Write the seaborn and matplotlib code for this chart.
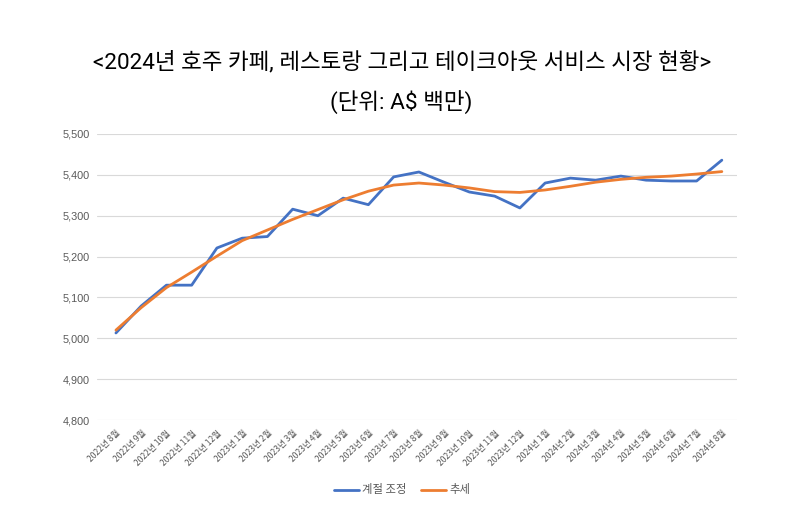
import matplotlib
matplotlib.use("Agg")
import matplotlib.pyplot as plt
import seaborn as sns
import pandas as pd
import numpy as np
from matplotlib.lines import Line2D

months = ["2022년 8월", "2022년 9월", "2022년 10월", "2022년 11월", "2022년 12월",
          "2023년 1월", "2023년 2월", "2023년 3월", "2023년 4월", "2023년 5월",
          "2023년 6월", "2023년 7월", "2023년 8월", "2023년 9월", "2023년 10월",
          "2023년 11월", "2023년 12월", "2024년 1월", "2024년 2월", "2024년 3월",
          "2024년 4월", "2024년 5월", "2024년 6월", "2024년 7월", "2024년 8월"]
seasonal = [5013, 5079, 5130, 5130, 5221, 5245, 5249, 5316, 5300, 5343,
            5327, 5395, 5407, 5382, 5358, 5348, 5319, 5380, 5392, 5387,
            5397, 5387, 5385, 5385, 5436]
trend = [5020, 5075, 5124, 5162, 5201, 5239, 5265, 5291, 5315, 5339,
         5360, 5375, 5380, 5375, 5368, 5359, 5357, 5363, 5372, 5382,
         5389, 5394, 5397, 5402, 5408]
series_names = ["계절 조정", "추세"]
colors = ["#4472C4", "#ED7D31"]

sns.set_theme(style="white")
plt.rcParams['font.family'] = ['Noto Sans CJK KR', 'DejaVu Sans']

df = pd.DataFrame({
    "x": list(range(len(months))) * 2,
    "value": seasonal + trend,
    "series": [series_names[0]] * len(months) + [series_names[1]] * len(months),
})

fig = plt.figure(figsize=(7.88, 5.21), dpi=100)
ax = fig.add_axes([97 / 788, 1 - 420 / 521, 640 / 788, 286 / 521])

sns.lineplot(data=df, x="x", y="value", hue="series", palette=colors,
             linewidth=2.0, ax=ax, legend=False)

ax.set_xlim(-0.75, 24.6)
ax.set_ylim(4800, 5500)
yt = np.arange(4800, 5501, 100)
ax.set_yticks(yt)
ax.set_yticklabels([f"{v:,}" for v in yt], fontsize=7.8, color="#595959",
                   family=['Liberation Sans', 'DejaVu Sans'])
ax.set_xticks(range(len(months)))
ax.set_xticklabels(months, rotation=45, ha="right", rotation_mode="anchor",
                   fontsize=6.2, color="#595959")
ax.tick_params(axis="x", length=0, pad=6)
ax.tick_params(axis="y", length=0, pad=5)
ax.grid(axis="y", color="#D9D9D9", linewidth=0.8)
ax.set_axisbelow(True)
for s in ax.spines.values():
    s.set_visible(False)
ax.set_xlabel("")
ax.set_ylabel("")

title_family = ['Roboto', 'Noto Sans CJK KR', 'DejaVu Sans']
fig.text(402 / 788, 1 - 62 / 521, "<2024년 호주 카페, 레스토랑 그리고 테이크아웃 서비스 시장 현황>",
         ha="center", va="center", fontsize=16.2, color="#000000", family=title_family)
fig.text(401 / 788, 1 - 103 / 521, "(단위: A$ 백만)", ha="center", va="center",
         fontsize=16.2, color="#000000", family=title_family)

handles = [Line2D([0], [0], color=c, linewidth=2.0) for c in colors]
fig.legend(handles, series_names, loc="center", bbox_to_anchor=(402 / 788, 1 - 490 / 521),
           ncol=2, frameon=False, fontsize=8.2, handlelength=2.2, columnspacing=1.2,
           handletextpad=0.3, labelcolor="#595959")

fig.savefig("out.png", dpi=100)
